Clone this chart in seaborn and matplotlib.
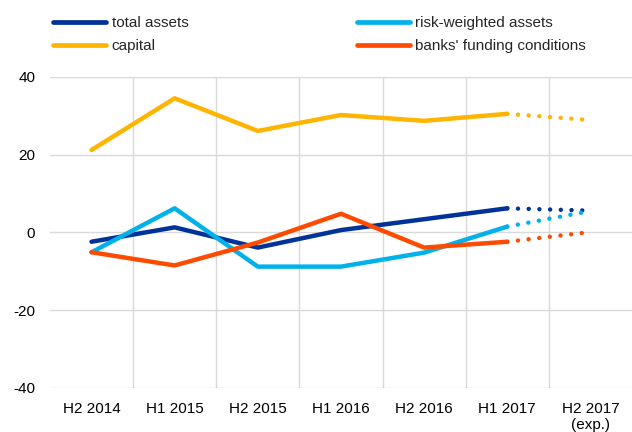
import matplotlib
matplotlib.use("Agg")
import matplotlib.pyplot as plt
from matplotlib.lines import Line2D
import pandas as pd
import seaborn as sns

# half-years, last one is the expectation
periods = ["H2 2014", "H1 2015", "H2 2015", "H1 2016", "H2 2016", "H1 2017", "H2 2017\n(exp.)"]

total_assets = [-2.4, 1.3, -3.9, 0.6, 3.4, 6.2, 5.6]
risk_weighted = [-5.1, 6.2, -8.8, -8.8, -5.2, 1.5, 5.5]
capital = [21.2, 34.5, 26.1, 30.2, 28.7, 30.5, 28.9]
funding = [-5.1, -8.5, -2.6, 4.8, -3.9, -2.4, 0.1]

series = {
    "total assets": (total_assets, "#003299"),
    "risk-weighted assets": (risk_weighted, "#00B1EA"),
    "capital": (capital, "#FFB400"),
    "banks' funding conditions": (funding, "#FF4B00"),
}

sns.set_style("white")
plt.rcParams["font.family"] = ["Liberation Sans", "DejaVu Sans"]
plt.rcParams["axes.unicode_minus"] = False

fig = plt.figure(figsize=(6.32, 4.32), dpi=100)
ax = fig.add_axes([0.079, 0.102, 0.921, 0.72])

x = list(range(len(periods)))
for name, (vals, col) in series.items():
    df = pd.DataFrame({"x": x, "y": vals})
    sns.lineplot(data=df.iloc[:6], x="x", y="y", color=col, lw=3.2,
                 ax=ax, solid_capstyle="round", zorder=3)
    sns.lineplot(data=df.iloc[5:], x="x", y="y", color=col, lw=3.2,
                 ax=ax, linestyle=(0, (0.01, 2.4)), dash_capstyle="round", zorder=3)

ax.set_xlim(-0.5, 6.5)
ax.set_ylim(-40, 40)
ax.set_yticks([-40, -20, 0, 20, 40])
ax.set_xticks(x)
ax.set_xticklabels(periods)
ax.set_xticks([i + 0.5 for i in range(6)], minor=True)
ax.set_xlabel("")
ax.set_ylabel("")
ax.grid(False)
ax.grid(axis="y", which="major", color="#d9d9d9", lw=1)
ax.grid(axis="x", which="minor", color="#d9d9d9", lw=1)
ax.tick_params(axis="both", which="both", length=0, labelsize=11, colors="black")
ax.tick_params(axis="x", pad=10)
ax.tick_params(axis="y", pad=10.5)
for s in ax.spines.values():
    s.set_visible(False)

order = ["total assets", "capital", "risk-weighted assets", "banks' funding conditions"]
handles = [Line2D([], [], color=series[n][1], lw=3.4, solid_capstyle="round") for n in order]
fig.legend(handles, order, ncol=2, loc="upper left", bbox_to_anchor=(0.062, 0.995),
           frameon=False, fontsize=11, handlelength=3.5, handletextpad=0.35,
           columnspacing=11.0, labelspacing=0.6)

fig.savefig("out.png", dpi=100)
